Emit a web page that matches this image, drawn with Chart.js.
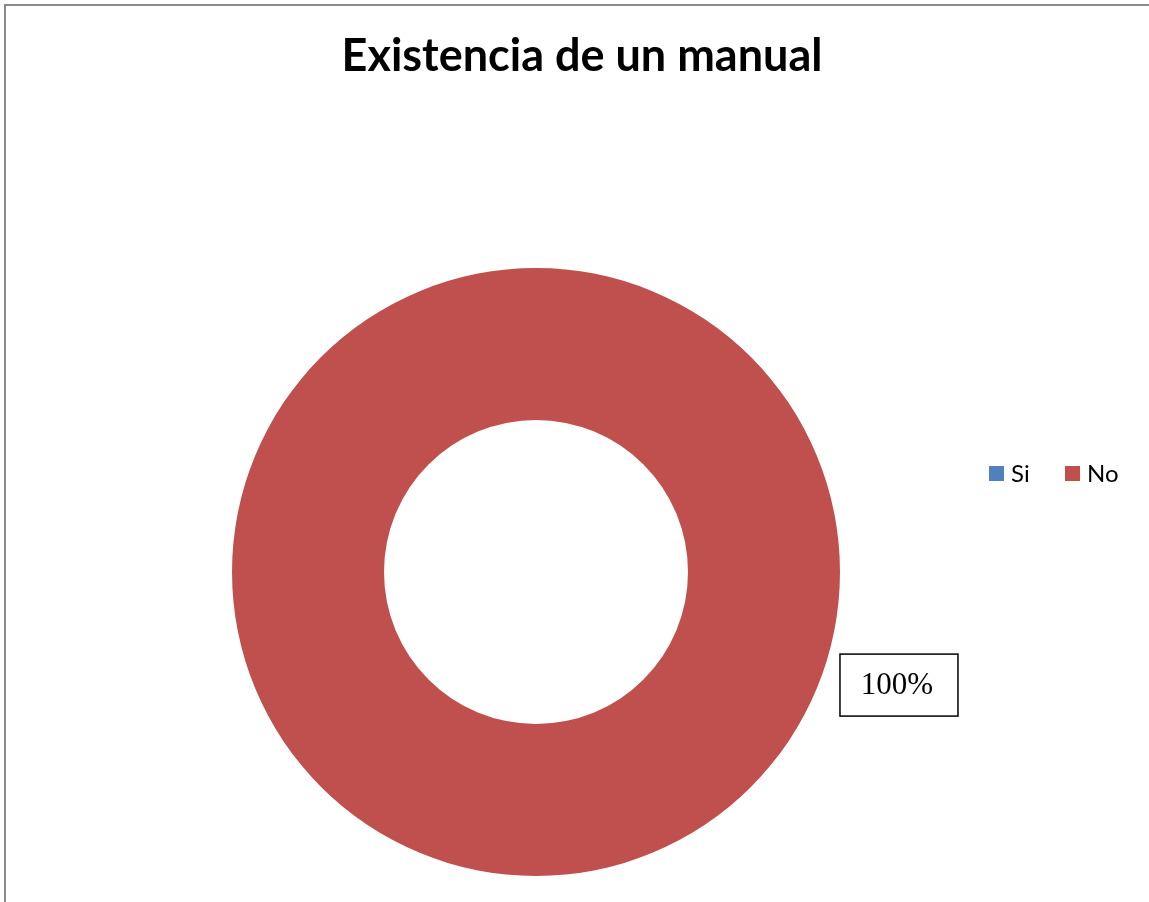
<!DOCTYPE html>
<html>
<head>
<meta charset="utf-8">
<script src="https://cdn.jsdelivr.net/npm/chart.js@4"></script>
<style>
  html, body { margin: 0; padding: 0; background: #fff; }
  #wrap { position: relative; width: 1149px; height: 902px; overflow: hidden; }
  #frame { position: absolute; left: 4px; top: 4px; width: 1145px; height: 898px;
           border-left: 2px solid #8a8a8a; border-top: 2px solid #8a8a8a; pointer-events: none; }
  canvas { position: absolute; left: 0; top: 0; }
</style>
</head>
<body>
<div id="wrap">
  <canvas id="c" width="1149" height="902"></canvas>
  <div id="frame"></div>
</div>
<script>
const chartTitle = "Existencia de un manual";
const categories = ["Si", "No"];
const values = [0, 100];
const colors = ["#4F81BD", "#C0504D"];

const overlayPlugin = {
  id: "overlay",
  afterDraw(chart) {
    const ctx = chart.ctx;
    ctx.save();
    // Title
    ctx.fillStyle = "#000";
    ctx.font = "bold 45px Lato, 'Liberation Sans', sans-serif";
    ctx.textAlign = "center";
    ctx.textBaseline = "alphabetic";
    ctx.fillText(chartTitle, 582, 71);

    // Legend
    ctx.font = "24px Lato, 'Liberation Sans', sans-serif";
    ctx.textAlign = "left";
    const legendX = [989, 1065];
    categories.forEach((cat, i) => {
      ctx.fillStyle = colors[i];
      ctx.fillRect(legendX[i], 466, 15, 15);
      ctx.fillStyle = "#000";
      ctx.fillText(cat, legendX[i] + 22, 482);
    });

    // Data labels
    const total = values.reduce((a, b) => a + b, 0);
    const meta = chart.getDatasetMeta(0);
    meta.data.forEach((arc, i) => {
      if (!values[i]) return;
      const pct = Math.round(values[i] / total * 100) + "%";
      const r = arc.outerRadius;
      const bx = arc.x + r * 1.194, by = arc.y + r * 0.372;
      const bw = 118, bh = 62;
      ctx.fillStyle = "#fff";
      ctx.fillRect(bx - bw / 2, by - bh / 2, bw, bh);
      ctx.strokeStyle = "#000";
      ctx.lineWidth = 1.5;
      ctx.strokeRect(bx - bw / 2, by - bh / 2, bw, bh);
      ctx.fillStyle = "#000";
      ctx.font = "31px 'Liberation Serif', 'DejaVu Serif', serif";
      ctx.textAlign = "center";
      ctx.textBaseline = "middle";
      ctx.fillText(pct, bx - 2, by + 1);
    });
    ctx.restore();
  }
};

new Chart(document.getElementById("c"), {
  type: "doughnut",
  data: {
    labels: categories,
    datasets: [{
      data: values,
      backgroundColor: colors,
      borderWidth: 0
    }]
  },
  options: {
    responsive: false,
    animation: false,
    cutout: "50%",
    layout: { padding: { left: 232, right: 309, top: 268, bottom: 26 } },
    plugins: {
      legend: { display: false },
      title: { display: false },
      tooltip: { enabled: false }
    }
  },
  plugins: [overlayPlugin]
});
</script>
</body>
</html>
